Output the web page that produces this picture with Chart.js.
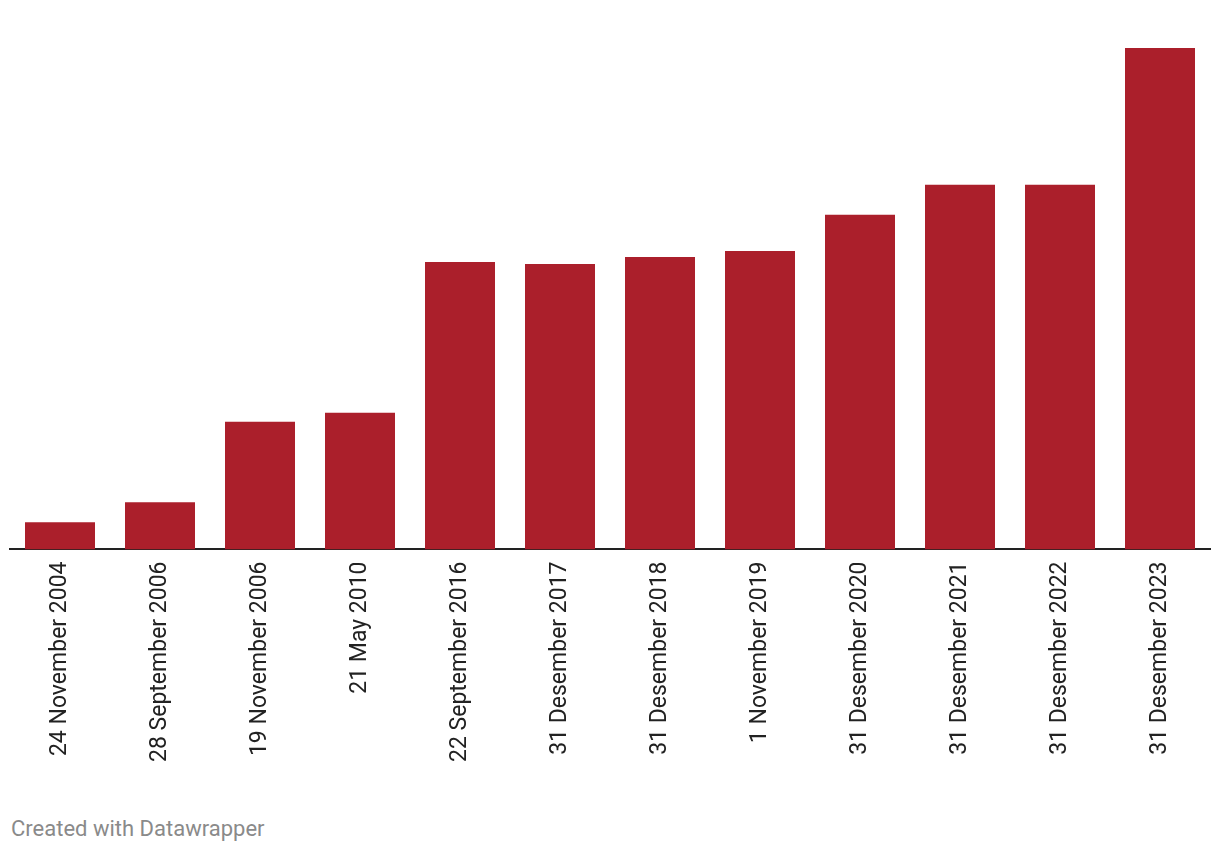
<!DOCTYPE html>
<html>
<head>
<meta charset="utf-8">
<script src="https://cdn.jsdelivr.net/npm/chart.js@4.4.1/dist/chart.umd.min.js"></script>
<style>
	body { margin: 0; background: #fff; font-family: Roboto, sans-serif; }
	#wrap { position: relative; width: 1220px; height: 854px; }
	#box { position: absolute; left: 0; top: 0; width: 1220px; height: 766px; }
	#footer { position: absolute; left: 11px; top: 816px; font-size: 22px; color: #8a8a8a; }
</style>
</head>
<body>
<div id="wrap">
	<div id="box"><canvas id="chart-area"></canvas></div>
	<div id="footer">Created with Datawrapper</div>
</div>
<script>
/*
 * 图表数据。
 */
var dates = [ "24 November 2004", "28 September 2006", "19 November 2006", "21 May 2010",
	"22 September 2016", "31 Desember 2017", "31 Desember 2018", "1 November 2019",
	"31 Desember 2020", "31 Desember 2021", "31 Desember 2022", "31 Desember 2023" ];
var values = [ 27, 47, 127, 136, 286, 284, 291, 297, 333, 363, 363, 499 ];

var config = {
	type : 'bar',
	data : {
		labels : dates,
		datasets : [ {
			data : values,
			backgroundColor : "#ab1f2b",
			barPercentage : 0.7,
			categoryPercentage : 1.0
		} ]
	},
	options : {
		responsive : true,
		maintainAspectRatio : false,
		animation : false,
		layout : {
			padding : { left : 10, right : 10, top : 48, bottom : 0 }
		},
		plugins : {
			legend : { display : false },
			tooltip : { enabled : false }
		},
		scales : {
			x : {
				grid : { display : false },
				border : { display : true, color : "#222", width : 2 },
				ticks : {
					minRotation : 90,
					maxRotation : 90,
					padding : 4,
					color : "#222",
					font : { family : "Roboto", size : 23 }
				}
			},
			y : {
				display : false,
				min : 0,
				max : 499
			}
		}
	}
};

window.onload = function() {
	var ctx = document.getElementById('chart-area').getContext('2d');
	window.myBar = new Chart(ctx, config);
};
</script>
</body>
</html>
